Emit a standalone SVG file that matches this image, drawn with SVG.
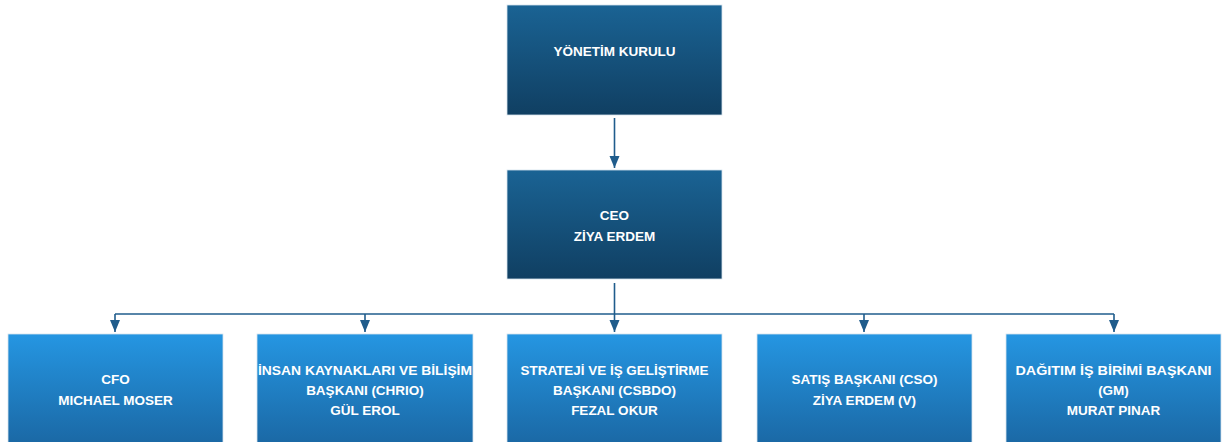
<svg xmlns="http://www.w3.org/2000/svg" width="1227" height="442" viewBox="0 0 1227 442">
<defs>
<linearGradient id="gDark" x1="0" y1="0" x2="0" y2="1">
<stop offset="0" stop-color="#1a6394"/>
<stop offset="1" stop-color="#103f62"/>
</linearGradient>
<linearGradient id="gLight" x1="0" y1="0" x2="0" y2="1">
<stop offset="0" stop-color="#2596e2"/>
<stop offset="1" stop-color="#1a66a2"/>
</linearGradient>
<marker id="arr" viewBox="0 0 12 10" refX="12" refY="5" markerWidth="12" markerHeight="13" markerUnits="userSpaceOnUse" orient="auto">
<path d="M0,0 L12,5 L0,10 z" fill="#1f5c8c"/>
</marker>
</defs>
<style>
.dark{fill:url(#gDark);stroke:#d6e4ee;stroke-width:0.8}
.light{fill:url(#gLight);stroke:#d6e4ee;stroke-width:0.8}
.t{font-family:"Liberation Sans",Arial,sans-serif;font-weight:bold;font-size:13.5px;fill:#ffffff;text-anchor:middle}
.c{fill:none;stroke:#1f5c8c;stroke-width:1.6}
</style>
<rect width="1227" height="442" fill="#ffffff"/>
<g id="connectors">
<path class="c" d="M614.5,118 V168" marker-end="url(#arr)"/>
<path class="c" d="M614.5,283 V314"/>
<path class="c" d="M115,314 H1114"/>
<path class="c" d="M115,314 V332" marker-end="url(#arr)"/>
<path class="c" d="M365,314 V332" marker-end="url(#arr)"/>
<path class="c" d="M614.5,314 V332" marker-end="url(#arr)"/>
<path class="c" d="M864,314 V332" marker-end="url(#arr)"/>
<path class="c" d="M1114,314 V332" marker-end="url(#arr)"/>
</g>
<g id="yonetim">
<rect class="dark" x="507" y="5" width="215" height="110"/>
<text class="t" x="614.5" y="56">YÖNETİM KURULU</text>
</g>
<g id="ceo">
<rect class="dark" x="507" y="170" width="215" height="109"/>
<text class="t" x="614.5" y="220">CEO</text>
<text class="t" x="614.5" y="241">ZİYA ERDEM</text>
</g>
<g id="cfo">
<rect class="light" x="8" y="334" width="215" height="115"/>
<text class="t" x="115.5" y="384">CFO</text>
<text class="t" x="115.5" y="405">MICHAEL MOSER</text>
</g>
<g id="chrio">
<rect class="light" x="257" y="334" width="216" height="115"/>
<text class="t" x="365" y="375" textLength="214" lengthAdjust="spacingAndGlyphs">İNSAN KAYNAKLARI VE BİLİŞİM</text>
<text class="t" x="365" y="395">BAŞKANI (CHRIO)</text>
<text class="t" x="365" y="415">GÜL EROL</text>
</g>
<g id="csbdo">
<rect class="light" x="507" y="334" width="215" height="115"/>
<text class="t" x="614.5" y="375" textLength="188" lengthAdjust="spacingAndGlyphs">STRATEJİ VE İŞ GELİŞTİRME</text>
<text class="t" x="614.5" y="395">BAŞKANI (CSBDO)</text>
<text class="t" x="614.5" y="415">FEZAL OKUR</text>
</g>
<g id="cso">
<rect class="light" x="757" y="334" width="215" height="115"/>
<text class="t" x="864.5" y="384">SATIŞ BAŞKANI (CSO)</text>
<text class="t" x="864.5" y="405">ZİYA ERDEM (V)</text>
</g>
<g id="gm">
<rect class="light" x="1006" y="334" width="215" height="115"/>
<text class="t" x="1113.5" y="375" textLength="196" lengthAdjust="spacingAndGlyphs">DAĞITIM İŞ BİRİMİ BAŞKANI</text>
<text class="t" x="1113.5" y="395">(GM)</text>
<text class="t" x="1113.5" y="415">MURAT PINAR</text>
</g>
</svg>
